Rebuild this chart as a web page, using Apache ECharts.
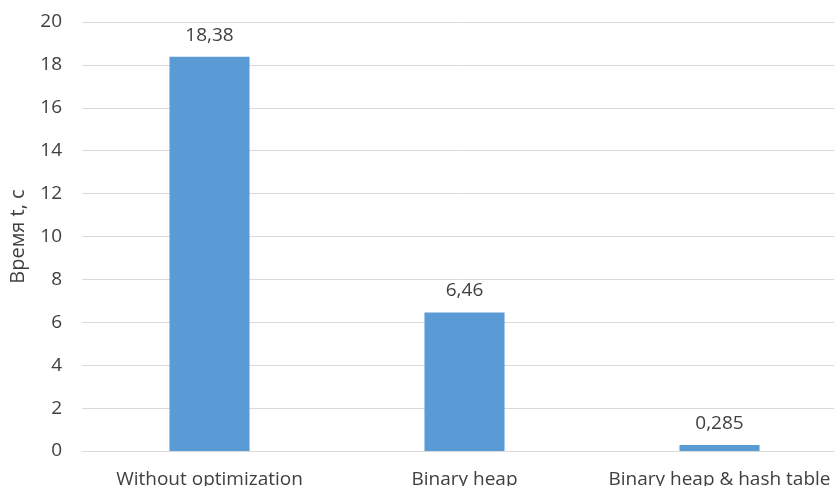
<!DOCTYPE html>
<html>
<head>
<meta charset="utf-8">
<script src="https://cdn.jsdelivr.net/npm/echarts@6/dist/echarts.min.js"></script>
<style>
  html, body { margin: 0; padding: 0; background: #fff; overflow: hidden; }
  #chart { width: 834px; height: 486px; }
</style>
</head>
<body>
<div id="chart"></div>
<script>
// Run time of each search variant, seconds
const categories = ['Without optimization', 'Binary heap', 'Binary heap & hash table'];
const times = [18.38, 6.46, 0.285];
const valueLabels = ['18,38', '6,46', '0,285'];
const yTicks = [0, 2, 4, 6, 8, 10, 12, 14, 16, 18, 20];

const fontFamily = '"Open Sans", "Noto Sans", sans-serif';
const textColor = '#404040';

const chart = echarts.init(document.getElementById('chart'), null, { renderer: 'canvas' });
chart.setOption({
  animation: false,
  // plot area runs past the right edge of the canvas
  grid: { left: 82, width: 765, top: 22, bottom: 35, containLabel: false, outerBoundsMode: 'none' },
  xAxis: {
    type: 'category',
    data: categories,
    axisLine: { lineStyle: { color: '#d9d9d9' } },
    axisTick: { show: false },
    axisLabel: { color: textColor, fontFamily, fontSize: 19, margin: 19, interval: 0 }
  },
  yAxis: {
    type: 'value',
    min: yTicks[0],
    max: yTicks[yTicks.length - 1],
    interval: yTicks[1] - yTicks[0],
    name: 'Время t, с',
    nameLocation: 'middle',
    nameGap: 54,
    nameTextStyle: { color: textColor, fontFamily, fontSize: 20 },
    axisLine: { show: false },
    axisTick: { show: false },
    axisLabel: { color: textColor, fontFamily, fontSize: 19, margin: 20 },
    splitLine: { lineStyle: { color: '#d9d9d9', width: 1 } }
  },
  series: [{
    type: 'bar',
    data: times,
    barWidth: '31.4%',
    itemStyle: { color: '#5b9bd5' },
    label: {
      show: true,
      position: 'top',
      distance: 12,
      color: textColor,
      fontFamily,
      fontSize: 19,
      formatter: p => valueLabels[p.dataIndex]
    }
  }]
});
</script>
</body>
</html>
